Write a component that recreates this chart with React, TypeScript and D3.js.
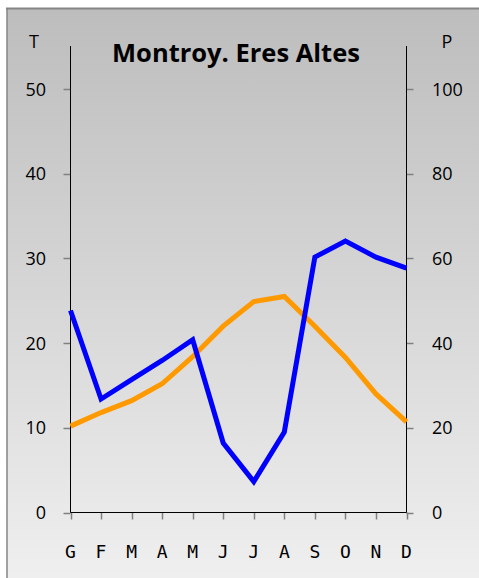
import React from "react";
import * as d3 from "d3";

const months = ["G", "F", "M", "A", "M", "J", "J", "A", "S", "O", "N", "D"];
const temperature = [10.2, 11.8, 13.2, 15.2, 18.4, 22.0, 24.9, 25.5, 22.0, 18.3, 14.0, 10.7];
const precipitation = [47.7, 26.8, 31.4, 35.9, 40.8, 16.4, 7.3, 19.0, 60.3, 64.1, 60.3, 57.7];
const tTicks = [0, 10, 20, 30, 40, 50];
const pTicks = [0, 20, 40, 60, 80, 100];
const title = "Montroy. Eres Altes";

export default function App() {
  const W = 479, H = 578;
  const left = 70.5, right = 406.5, top = 46, bottom = 512.5;
  const x = d3.scalePoint<number>().domain(d3.range(12)).range([left, right]);
  const yT = d3.scaleLinear().domain([0, 50]).range([bottom, 89]);
  const yP = d3.scaleLinear().domain([0, 100]).range([bottom, 89]);
  const lineT = d3.line<number>().x((_, i) => x(i)!).y((d) => yT(d));
  const lineP = d3.line<number>().x((_, i) => x(i)!).y((d) => yP(d));
  const num = { fontFamily: "'Open Sans', sans-serif", fontSize: 18, fill: "#000" };
  return (
    <svg width={W} height={H} style={{ display: "block", position: "absolute", left: 0, top: 0 }}>
      <defs>
        <linearGradient id="bg" x1="0" y1="0" x2="0" y2="1">
          <stop offset="0" stopColor="#bdbdbd" />
          <stop offset="1" stopColor="#efefef" />
        </linearGradient>
      </defs>
      <rect x={7} y={8} width={W - 7} height={H - 8} fill="url(#bg)" />
      <line x1={6} x2={W} y1={8.5} y2={8.5} stroke="#858585" strokeWidth={2} />
      <line x1={7} x2={7} y1={8} y2={H} stroke="#858585" strokeWidth={1.5} />
      <text x={236} y={62} textAnchor="middle" fontFamily="'Open Sans', sans-serif" fontWeight="bold" fontSize={25.5} fill="#000">
        {title}
      </text>
      <text x={34} y={48} textAnchor="middle" {...num}>T</text>
      <text x={447} y={48} textAnchor="middle" {...num}>P</text>
      {tTicks.map((t) => (
        <g key={"t" + t}>
          <line x1={left - 7} x2={left} y1={Math.round(yT(t)) + 0.5} y2={Math.round(yT(t)) + 0.5} stroke="#808080" strokeWidth={1.5} />
          <text x={46} y={yT(t) + 6.5} textAnchor="end" {...num}>{t}</text>
        </g>
      ))}
      {pTicks.map((p) => (
        <g key={"p" + p}>
          <line x1={right} x2={right + 7} y1={Math.round(yP(p)) + 0.5} y2={Math.round(yP(p)) + 0.5} stroke="#808080" strokeWidth={1.5} />
          <text x={432} y={yP(p) + 6.5} textAnchor="start" {...num}>{p}</text>
        </g>
      ))}
      {months.map((m, i) => (
        <g key={"m" + i}>
          <line x1={Math.round(x(i)!) + 0.5} x2={Math.round(x(i)!) + 0.5} y1={bottom} y2={bottom + 7} stroke="#808080" strokeWidth={1.5} />
          <text x={x(i)!} y={558} textAnchor="middle" fontFamily="'DejaVu Sans Mono', monospace" fontSize={18} fill="#000">{m}</text>
        </g>
      ))}
      <line x1={left} x2={left} y1={top} y2={bottom} stroke="#000" strokeWidth={1} />
      <line x1={right} x2={right} y1={top} y2={bottom} stroke="#000" strokeWidth={1} />
      <line x1={left} x2={right} y1={bottom} y2={bottom} stroke="#000" strokeWidth={1} />
      <path d={lineT(temperature)!} fill="none" stroke="#ff9900" strokeWidth={5} />
      <path d={lineP(precipitation)!} fill="none" stroke="#0000ff" strokeWidth={5} />
    </svg>
  );
}
